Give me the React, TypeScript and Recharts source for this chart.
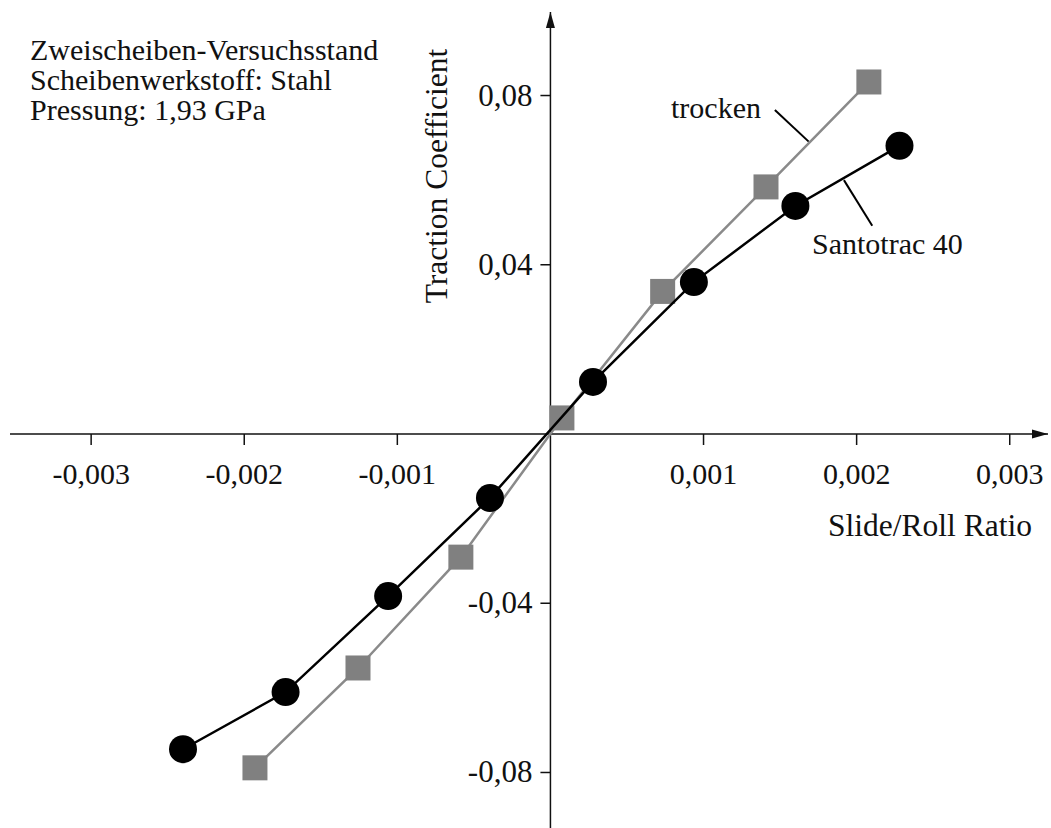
import React from 'react';
import { ScatterChart, Scatter, XAxis, YAxis, ReferenceLine, ReferenceDot, Customized } from 'recharts';

// Santotrac 40 (black circles)
const santotracX = [-0.0024, -0.00173, -0.00106, -0.000395, 0.000278, 0.000937, 0.0016, 0.00228];
const santotracY = [-0.0745, -0.061, -0.0383, -0.0151, 0.0123, 0.0359, 0.0539, 0.0681];

// trocken (grey squares)
const trockenX = [-0.00193, -0.001257, -0.000585, 0.000075, 0.000733, 0.001408, 0.00208];
const trockenY = [-0.0789, -0.0553, -0.0291, 0.0038, 0.0337, 0.0584, 0.0832];

const xTicks = [-0.003, -0.002, -0.001, 0.001, 0.002, 0.003];
const xTickLabels = ['-0,003', '-0,002', '-0,001', '0,001', '0,002', '0,003'];
const yTicks = [0.08, 0.04, -0.04, -0.08];
const yTickLabels = ['0,08', '0,04', '-0,04', '-0,08'];

const xDomain = [-0.00353, 0.00325];
const yDomain = [-0.09312, 0.09974];

const infoLines = ['Zweischeiben-Versuchsstand', 'Scheibenwerkstoff: Stahl', 'Pressung: 1,93 GPa'];

const FONT = '"Liberation Serif", "Times New Roman", serif';
const INK = '#111';

const santotracData = santotracX.map((x, i) => ({ x, y: santotracY[i] }));
const trockenData = trockenX.map((x, i) => ({ x, y: trockenY[i] }));

const Circle = (props: any) => <circle cx={props.cx} cy={props.cy} r={14} fill="#000" />;
const Square = (props: any) => (
  <rect x={props.cx - 12.5} y={props.cy - 12.5} width={25} height={25} fill="#808080" />
);

const Annotations = () => (
  <g fontFamily={FONT} fontSize={30} fill={INK}>
    {infoLines.map((t, i) => (
      <text key={t} x={30} y={60 + i * 30}>{t}</text>
    ))}
    <text x={828} y={536} fontSize={31.5}>Slide/Roll Ratio</text>
    <text x={447} y={176} fontSize={31.5} textAnchor="middle" transform="rotate(-90 447 176)">Traction Coefficient</text>
    <text x={671} y={118}>trocken</text>
    <text x={812} y={254}>Santotrac 40</text>
  </g>
);

export default function App() {
  return (
    <div style={{ position: 'absolute', left: 0, top: 0, background: '#fff' }}>
      <ScatterChart width={1051} height={828} margin={{ top: 12, right: 3, bottom: 0, left: 10 }}>
        <XAxis type="number" dataKey="x" domain={xDomain} allowDataOverflow hide />
        <YAxis type="number" dataKey="y" domain={yDomain} allowDataOverflow hide />

        <ReferenceLine y={0} stroke={INK} strokeWidth={1.5} />
        <ReferenceLine x={0} stroke={INK} strokeWidth={1.5} />
        <ReferenceDot
          x={xDomain[1]}
          y={0}
          ifOverflow="visible"
          shape={(p: any) => (
            <polygon points={`${p.cx},${p.cy} ${p.cx - 16},${p.cy - 4.5} ${p.cx - 16},${p.cy + 4.5}`} fill={INK} />
          )}
        />
        <ReferenceDot
          x={0}
          y={yDomain[1]}
          ifOverflow="visible"
          shape={(p: any) => (
            <polygon points={`${p.cx},${p.cy} ${p.cx - 4.5},${p.cy + 16} ${p.cx + 4.5},${p.cy + 16}`} fill={INK} />
          )}
        />

        {xTicks.map((t, i) => (
          <ReferenceDot
            key={'xt' + t}
            x={t}
            y={0}
            ifOverflow="visible"
            shape={(p: any) => (
              <g>
                <line x1={p.cx} y1={p.cy} x2={p.cx} y2={p.cy + 11} stroke={INK} strokeWidth={1.5} />
                <text x={p.cx} y={p.cy + 50} textAnchor="middle" fontFamily={FONT} fontSize={30} fill={INK}>
                  {xTickLabels[i]}
                </text>
              </g>
            )}
          />
        ))}
        {yTicks.map((t, i) => (
          <ReferenceDot
            key={'yt' + t}
            x={0}
            y={t}
            ifOverflow="visible"
            shape={(p: any) => (
              <g>
                <line x1={p.cx - 10} y1={p.cy} x2={p.cx} y2={p.cy} stroke={INK} strokeWidth={1.5} />
                <text x={p.cx - 18} y={p.cy + 10} textAnchor="end" fontFamily={FONT} fontSize={31} fill={INK}>
                  {yTickLabels[i]}
                </text>
              </g>
            )}
          />
        ))}

        {/* leader lines for the series labels */}
        <ReferenceLine segment={[{ x: 0.001466, y: 0.0766 }, { x: 0.001687, y: 0.0691 }]} stroke="#000" strokeWidth={2} />
        <ReferenceLine segment={[{ x: 0.001917, y: 0.06 }, { x: 0.002102, y: 0.0492 }]} stroke="#000" strokeWidth={2} />

        <Scatter
          name="trocken"
          data={trockenData}
          line={{ stroke: '#8a8a8a', strokeWidth: 2.5 }}
          lineType="joint"
          shape={Square}
          fill="#808080"
          isAnimationActive={false}
        />
        <Scatter
          name="Santotrac 40"
          data={santotracData}
          line={{ stroke: '#000', strokeWidth: 2.5 }}
          lineType="joint"
          shape={Circle}
          fill="#000"
          isAnimationActive={false}
        />
        <Customized component={Annotations} />
      </ScatterChart>
    </div>
  );
}
